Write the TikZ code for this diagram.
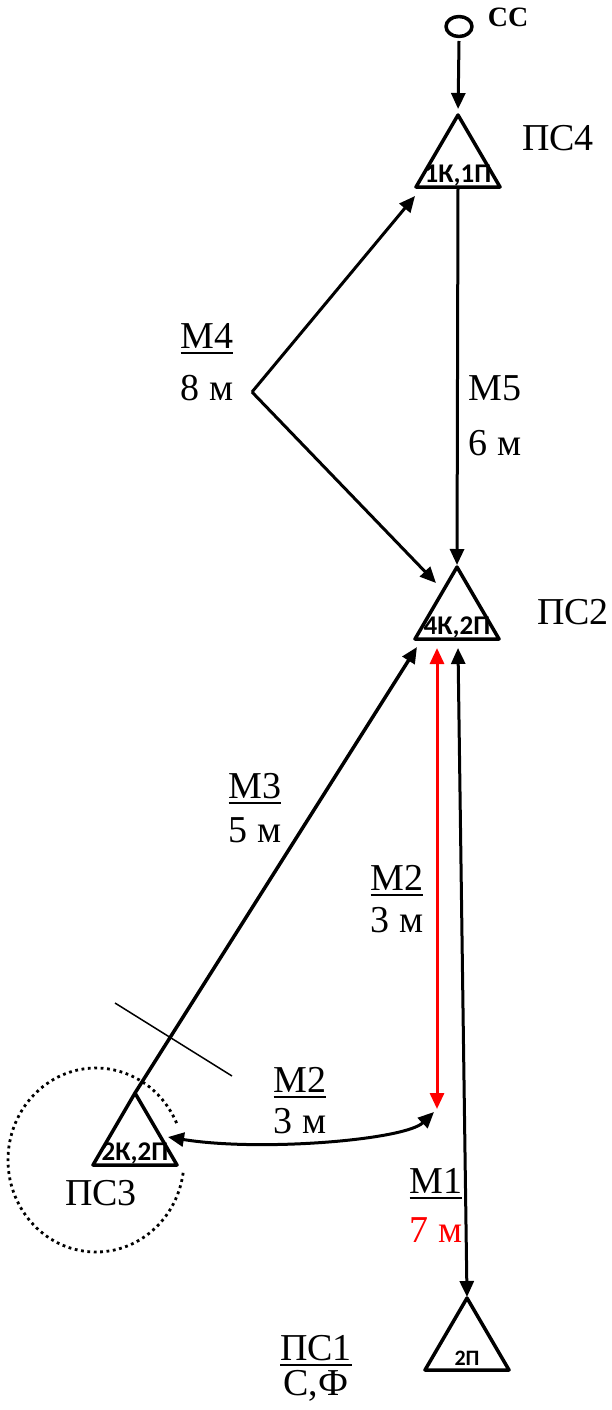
\documentclass[tikz,border=0pt]{standalone}
\usepackage{fontspec}
\setmainfont{Liberation Serif}
\newfontfamily\trifont{Carlito}
\usetikzlibrary{arrows.meta}

\newcommand\ulbar[1]{\sbox0{#1}\rlap{\rule[-6pt]{\wd0}{2.4pt}}\usebox0}
\newcommand\lab[3]{\begin{tabular}[t]{@{}c@{}}#1\\[#3]#2\end{tabular}}

\begin{document}
\begin{tikzpicture}[x=1pt, y=-1pt, line join=round, >={Triangle[length=16pt,width=14pt]},
	txt/.style={anchor=base, inner sep=0pt, font=\fontsize{38}{42}\selectfont},
	link/.style={line width=3pt}]
	\useasboundingbox (0,0) rectangle (612,1410);
	% substations: apex, inner label, label size
	\foreach \n/\x/\y/\t/\s in {ps4/458/115/{1К,1П}/27, ps2/457/567/{4К,2П}/27, ps3/135/1093/{2К,2П}/27, ps1/467/1298/{2П}/22}{
		\coordinate (\n) at (\x,\y);
		\coordinate (\n-l) at (\x-42,\y+72);
		\coordinate (\n-r) at (\x+42,\y+72);
		\coordinate (\n-b) at (\x,\y+72);
		\draw[line width=3.5pt] (\n) -- (\n-l) -- (\n-r) -- cycle;
		\node[anchor=base, inner sep=0pt, font=\trifont\bfseries\fontsize{\s}{\s}\selectfont] (\n-t) at (\x,\y+67) {\t};
	}
	% source
	\coordinate (cc) at (459,26.5);
	\coordinate (cc-b) at (459,41);
	\draw[line width=3.5pt] (cc) ellipse [x radius=13, y radius=10];
	\node[anchor=base, inner sep=0pt, font=\bfseries\fontsize{28}{28}\selectfont] (cc-t) at (508,27) {СС};
	\draw[link, ->, shorten >=6pt] (cc-b) -- (ps4);
	% lines
	\coordinate (m4) at (252,392);
	\coordinate (m4-top) at (415,196);
	\coordinate (m4-bot) at (436,583);
	\draw[link, ->] (m4) -- (m4-top);
	\draw[link, ->] (m4) -- (m4-bot);
	\draw[link, ->, shorten >=2pt] (ps4-b) -- (ps2);
	\coordinate (m3-end) at (417,647);
	\draw[line width=3.5pt, ->] (ps3) -- (m3-end);
	\coordinate (m2-top) at (437,648);
	\coordinate (m2-bot) at (437,1109);
	\draw[link, red, <->] (m2-top) -- (m2-bot);
	\coordinate (m2-left) at (168,1137);
	\coordinate (m2-end) at (434,1112);
	\draw[link, <->] (m2-left) .. controls (260,1152) and (405,1140) .. (m2-end);
	\coordinate (m1-top) at (458,648);
	\coordinate (m1-bot) at (467,1297);
	\draw[link, <->] (m1-top) -- (m1-bot);
	% cut mark and zone round ПС3
	\coordinate (cut-a) at (115,1003);
	\coordinate (cut-b) at (232,1076);
	\draw[line width=1.5pt] (cut-a) -- (cut-b);
	\draw[line width=2.8pt, dash pattern=on 2.8pt off 3.6pt] (96,1160) ++ ({88*cos(8)},{92*sin(8)})
		arc[start angle=8, end angle=337, x radius=88, y radius=92];
	% names
	\node[txt] (ps4-n) at (558,150) {ПС4};
	\node[txt] (ps2-n) at (573,624) {ПС2};
	\node[txt] (ps3-n) at (101,1205) {ПС3};
	\node[txt] (ps1-n) at (316,1360) {\lab{\ulbar{ПС1}}{С,Ф}{-7pt}};
	% line labels
	\node[txt] (m4-n) at (207,348) {\lab{\ulbar{М4}}{8 м}{10pt}};
	\node[txt] (m5-n) at (495,400) {\lab{М5}{6 м}{13pt}};
	\node[txt] (m3-n) at (255,798) {\lab{\ulbar{М3}}{5 м}{2pt}};
	\node[txt] (m2-n) at (397,890) {\lab{\ulbar{М2}}{3 м}{0pt}};
	\node[txt] (m2b-n) at (300,1092) {\lab{\ulbar{М2}}{3 м}{-1pt}};
	\node[txt] (m1-n) at (436,1193) {\lab{\ulbar{М1}}{\textcolor{red}{7 м}}{7pt}};
\end{tikzpicture}
\end{document}
